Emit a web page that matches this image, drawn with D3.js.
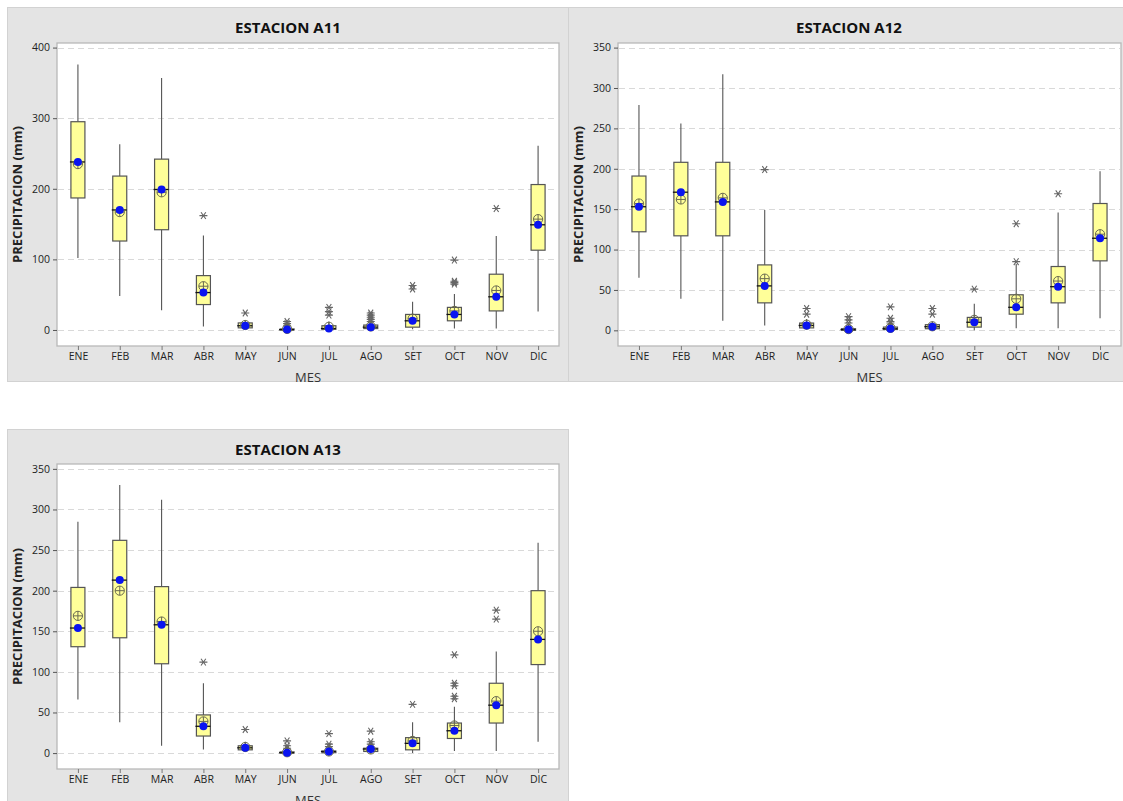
<!DOCTYPE html>
<html><head><meta charset="utf-8">
<script src="https://cdn.jsdelivr.net/npm/d3@7"></script>
<style>
body{margin:0;background:#fff;}
svg{display:block;font-family:"Open Sans","Noto Sans",sans-serif;}
</style>
</head><body>
<svg id="c" width="1123" height="801"></svg>
<script>
const months = ["ENE","FEB","MAR","ABR","MAY","JUN","JUL","AGO","SET","OCT","NOV","DIC"];

// ESTACION A11
const a11Low    = [102, 48, 28, 5, 1, 0, 0, 0, 1, 2, 2, 26];
const a11Q1     = [187, 126, 142, 36, 3, 0, 1, 2, 4, 13, 27, 113];
const a11Median = [238, 170, 199, 53, 6, 0.5, 2, 4, 13, 22, 47, 149];
const a11Q3     = [295, 218, 242, 77, 10, 1.5, 6, 7, 22, 32, 79, 206];
const a11High   = [376, 263, 357, 134, 14, 3, 12, 10, 40, 51, 133, 261];
const a11Mean   = [235, 167, 195, 62, 7, 1.5, 4.5, 5, 16, 27, 56, 157];
const a11Outliers = [[], [], [], [162], [24], [6, 9, 12], [21, 26, 32], [12, 15, 18, 21, 24], [58, 63], [65, 67, 69, 99], [172], []];
const a11Ticks = [0, 100, 200, 300, 400];

// ESTACION A12
const a12Low    = [65, 39, 12, 6, 1, 0, 0, 1, 0, 2.5, 2.5, 15];
const a12Q1     = [122, 117, 117, 34, 3, 0, 1, 2, 4, 20, 34, 86];
const a12Median = [153, 171, 159, 55, 6, 1, 2, 4.5, 10, 28.5, 54, 114];
const a12Q3     = [191, 208, 208, 81, 9, 2, 4, 7, 16, 44, 79, 157];
const a12High   = [279, 256, 317, 149, 14, 5, 7, 11, 33, 82, 146, 197];
const a12Mean   = [157, 162, 164, 64, 7, 1.5, 3, 5, 13, 39, 61, 119];
const a12Outliers = [[], [], [], [199], [20, 27], [9, 13, 17], [9, 11, 15, 29], [20, 27], [51], [85, 132], [169], []];
const a12Ticks = [0, 50, 100, 150, 200, 250, 300, 350];

// ESTACION A13
const a13Low    = [66, 38, 9, 4.5, 2, 0, 0, 0.5, 0, 2.5, 2.5, 14];
const a13Q1     = [131, 142, 110, 21, 4, 0, 0.5, 2, 4, 18, 37, 109];
const a13Median = [154, 213, 158, 33, 6.5, 0.5, 2, 5, 12, 27.5, 59, 140];
const a13Q3     = [204, 262, 205, 47, 9, 1.5, 2.5, 6, 19, 37, 86, 200];
const a13High   = [285, 330, 312, 86, 14, 3, 5, 8, 38, 57, 125, 259];
const a13Mean   = [169, 200, 162, 39, 7.5, 1, 2, 4.5, 15, 34, 64, 150];
const a13Outliers = [[], [], [], [112], [29], [6, 9, 15], [8, 11, 24], [11, 14, 27], [60], [67, 70, 83, 86, 121], [165, 176], []];
const a13Ticks = [0, 50, 100, 150, 200, 250, 300, 350];

const panels = [
  {title:"ESTACION A11", low:a11Low, q1:a11Q1, med:a11Median, q3:a11Q3, high:a11High, mean:a11Mean, out:a11Outliers, ticks:a11Ticks,
   domain:[-22.7, 406.5], bg:[7,7,568,381], frame:[57,43,559,346], titleX:288, titleY:27, ylabX:17},
  {title:"ESTACION A12", low:a12Low, q1:a12Q1, med:a12Median, q3:a12Q3, high:a12High, mean:a12Mean, out:a12Outliers, ticks:a12Ticks,
   domain:[-19.4, 355.7], bg:[568,7,1130,381], frame:[618,43,1121,346], titleX:849, titleY:27, ylabX:578},
  {title:"ESTACION A13", low:a13Low, q1:a13Q1, med:a13Median, q3:a13Q3, high:a13High, mean:a13Mean, out:a13Outliers, ticks:a13Ticks,
   domain:[-19.6, 356.0], bg:[7,429,568,810], frame:[57,464,559,769], titleX:288, titleY:449, ylabX:17}
];

const svg = d3.select("#c");

panels.forEach(p => {
  const g = svg.append("g");
  const [bx0, by0, bx1, by1] = p.bg;
  g.append("rect").attr("x", bx0 + 0.5).attr("y", by0 + 0.5).attr("width", bx1 - bx0).attr("height", by1 - by0)
    .attr("fill", "#e4e4e4").attr("stroke", "#d2d2d2");

  const [fx0, fy0, fx1, fy1] = p.frame;
  const x = d3.scalePoint().domain(months).range([fx0, fx1]).padding(0.5);
  const y = d3.scaleLinear().domain(p.domain).range([fy1, fy0]);

  g.append("rect").attr("x", fx0).attr("y", fy0).attr("width", fx1 - fx0).attr("height", fy1 - fy0)
    .attr("fill", "#fff").attr("stroke", "#b8b8b8").attr("stroke-width", 1.3);

  // grid
  g.append("g").selectAll("line").data(p.ticks).join("line")
    .attr("x1", fx0 + 1).attr("x2", fx1 - 1)
    .attr("y1", d => Math.round(y(d)) + 0.5).attr("y2", d => Math.round(y(d)) + 0.5)
    .attr("stroke", "#d9d9d9").attr("stroke-dasharray", "6,4");

  // y axis
  const ya = g.append("g").attr("transform", `translate(${fx0},0)`)
    .call(d3.axisLeft(y).tickValues(p.ticks).tickSize(4).tickPadding(3).tickSizeOuter(0));
  ya.select(".domain").remove();
  ya.selectAll("line").attr("stroke", "#555");
  ya.selectAll("text").attr("font-size", "10.5px").attr("fill", "#222").attr("font-family", "\"Open Sans\",sans-serif");

  // x axis
  const xa = g.append("g").attr("transform", `translate(0,${fy1})`)
    .call(d3.axisBottom(x).tickSize(4).tickPadding(3).tickSizeOuter(0));
  xa.select(".domain").remove();
  xa.selectAll("line").attr("stroke", "#777");
  xa.selectAll("text").attr("font-size", "10.5px").attr("fill", "#222").attr("font-family", "\"Open Sans\",sans-serif");

  // titles
  g.append("text").attr("x", p.titleX).attr("y", p.titleY).attr("text-anchor", "middle").attr("dominant-baseline", "central")
    .attr("font-size", "15px").attr("font-weight", "bold").attr("fill", "#111").text(p.title);
  g.append("text").attr("x", (fx0 + fx1) / 2).attr("y", fy1 + 31).attr("text-anchor", "middle").attr("dominant-baseline", "central")
    .attr("font-size", "13px").attr("fill", "#333").text("MES");
  g.append("text").attr("transform", `translate(${p.ylabX},${(fy0 + fy1) / 2}) rotate(-90)`)
    .attr("text-anchor", "middle").attr("dominant-baseline", "central")
    .attr("font-size", "13px").attr("font-weight", "bold").attr("fill", "#222").text("PRECIPITACION (mm)");

  const bw = 14;
  const idx = d3.range(months.length);
  const boxes = g.append("g");
  // whiskers
  boxes.selectAll("line.wh").data(idx).join("line").attr("class", "wh")
    .attr("x1", i => x(months[i])).attr("x2", i => x(months[i]))
    .attr("y1", i => y(p.high[i])).attr("y2", i => y(p.q3[i]))
    .attr("stroke", "#555").attr("stroke-width", 1.1);
  boxes.selectAll("line.wl").data(idx).join("line").attr("class", "wl")
    .attr("x1", i => x(months[i])).attr("x2", i => x(months[i]))
    .attr("y1", i => y(p.low[i])).attr("y2", i => y(p.q1[i]))
    .attr("stroke", "#555").attr("stroke-width", 1.1);
  // outliers
  const outs = [];
  p.out.forEach((arr, i) => arr.forEach(v => outs.push({i, v})));
  const r = 4;
  const ast = `M${-r},0L${r},0M${-r*0.6},${-r*0.85}L${r*0.6},${r*0.85}M${-r*0.6},${r*0.85}L${r*0.6},${-r*0.85}`;
  boxes.selectAll("path.out").data(outs).join("path").attr("class", "out")
    .attr("transform", d => `translate(${x(months[d.i])},${y(d.v)})`)
    .attr("d", ast).attr("stroke", "#666").attr("stroke-width", 1.1).attr("fill", "none");
  // box
  boxes.selectAll("rect.box").data(idx).join("rect").attr("class", "box")
    .attr("x", i => x(months[i]) - bw / 2).attr("width", bw)
    .attr("y", i => y(p.q3[i])).attr("height", i => Math.max(1, y(p.q1[i]) - y(p.q3[i])))
    .attr("fill", "#ffff99").attr("stroke", "#555").attr("stroke-width", 1.2);
  // median
  boxes.selectAll("line.med").data(idx).join("line").attr("class", "med")
    .attr("x1", i => x(months[i]) - bw / 2 - 1).attr("x2", i => x(months[i]) + bw / 2)
    .attr("y1", i => y(p.med[i])).attr("y2", i => y(p.med[i]))
    .attr("stroke", "#111").attr("stroke-width", 1.3);
  // mean symbol
  const mr = 4.6;
  const mg = boxes.selectAll("g.mean").data(idx).join("g").attr("class", "mean")
    .attr("transform", i => `translate(${x(months[i])},${y(p.mean[i])})`);
  mg.append("circle").attr("r", mr).attr("fill", "none").attr("stroke", "#6a6a50").attr("stroke-width", 1);
  mg.append("path").attr("d", `M${-mr},0L${mr},0M0,${-mr}L0,${mr}`).attr("stroke", "#6a6a50").attr("stroke-width", 1);
  // median dot
  boxes.selectAll("circle.dot").data(idx).join("circle").attr("class", "dot")
    .attr("cx", i => x(months[i])).attr("cy", i => y(p.med[i])).attr("r", 4)
    .attr("fill", "#0a14f0");
});
</script>
</body></html>
